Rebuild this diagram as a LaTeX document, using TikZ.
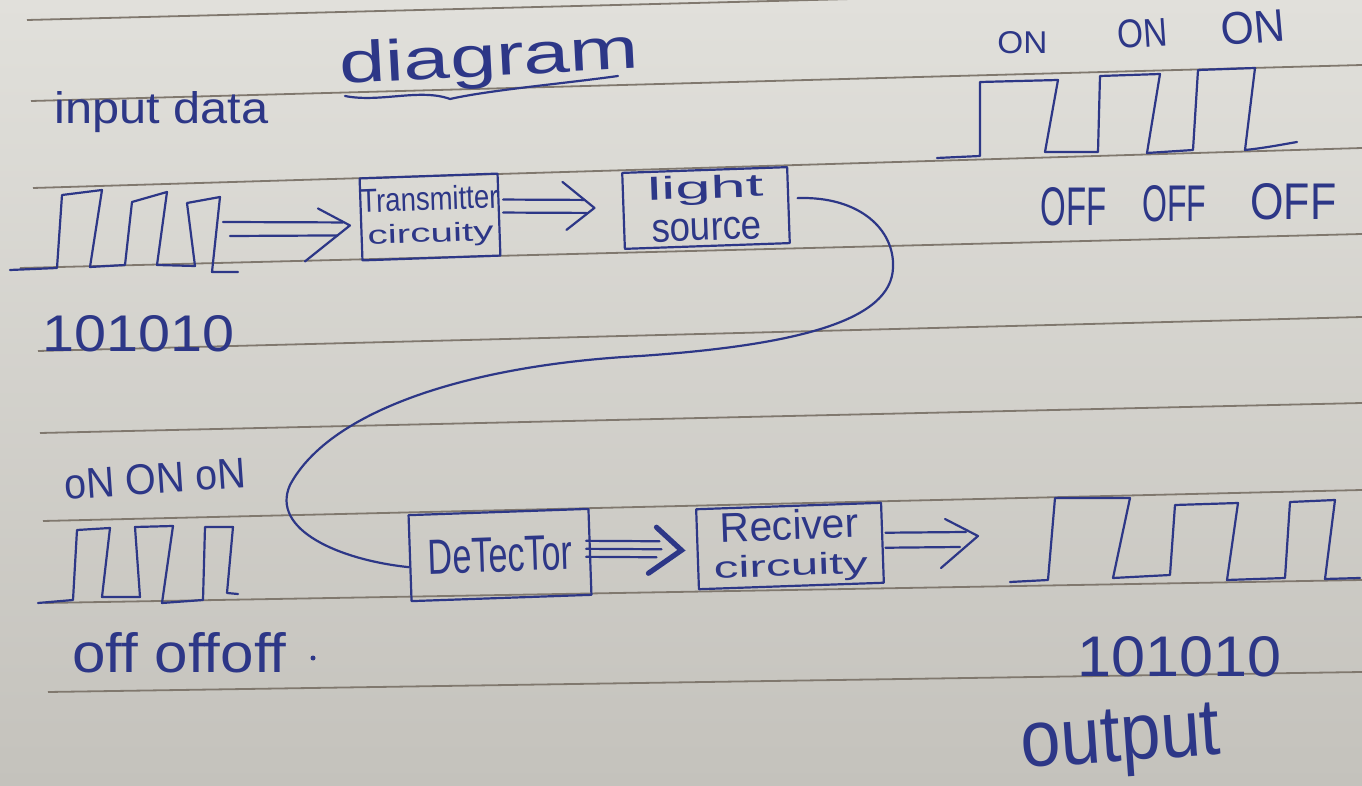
\documentclass[tikz,border=0pt]{standalone}
\usepackage{fontspec}
\setmainfont{Liberation Sans}
\usepackage{graphicx}
\definecolor{ink}{RGB}{45,55,135}
\definecolor{rulecol}{RGB}{128,120,110}
\definecolor{papertop}{RGB}{225,224,219}
\definecolor{paperbot}{RGB}{196,194,188}
\newcommand\hw[3]{\resizebox{#1pt}{#2pt}{#3}}
\begin{document}
\begin{tikzpicture}[x=0.5pt,y=-0.5pt,
  pen/.style={draw=ink,line width=1.1pt,line cap=round,line join=round},
  ruled/.style={draw=rulecol,line width=0.9pt},
  box/.style={pen,rectangle,inner sep=0pt,align=center,rotate=2,text=ink},
  lbl/.style={inner sep=0pt,anchor=base west,text=ink},
  headpen/.style={pen,line width=2.6pt,line join=miter}]
\useasboundingbox (0,0) rectangle (1362,786);
\shade[top color=papertop,bottom color=paperbot] (0,0) rectangle (1362,786);
% ruled lines of the paper
\foreach \xa/\ya/\yb in {27/20/-14,31/101/65,33/188/148,20/268/234,38/351/317,40/433/403,43/521/490,45/603/580,48/692/672}
  \draw[ruled] (\xa,\ya) -- (1362,\yb);

% blocks
\node[box,minimum width=67.5pt,minimum height=41pt,font=\fontsize{10}{16}\selectfont] (tx) at (430,217) {\hw{69}{12}{Transmitter}\\\hw{63}{9.5}{circuity}};
\node[box,minimum width=82.5pt,minimum height=38pt,font=\fontsize{10}{21}\selectfont] (ls) at (706,208) {\hw{58}{11.5}{light}\\\hw{55}{11}{source}};
\node[box,minimum width=90pt,minimum height=43pt] (det) at (500,555) {\hw{72}{17}{DeTecTor}};
\node[box,minimum width=92.5pt,minimum height=40pt,font=\fontsize{10}{18}\selectfont] (rx) at (790,546) {\hw{69}{15}{Reciver}\\\hw{77}{11}{circuity}};

% labels
\node[lbl] (indata) at (54,124) {\hw{107}{16}{input data}};
\node[lbl,rotate=3] (title) at (340,84) {\hw{150}{21}{diagram}};
\draw[pen] (345,96) .. controls (380,103) and (420,88) .. (450,99) .. controls (490,90) and (560,84) .. (618,76);
\node[lbl] (inbits) at (42,352) {\hw{96}{18}{101010}};
\node[lbl] (on1) at (997,54) {\hw{25}{11}{ON}};
\node[lbl,rotate=4] (on2) at (1118,49) {\hw{25}{14}{ON}};
\node[lbl,rotate=5] (on3) at (1222,46) {\hw{32}{16}{ON}};
\node[lbl] (off1) at (1040,226) {\hw{33}{19}{OFF}};
\node[lbl] (off2) at (1142,222) {\hw{32}{18}{OFF}};
\node[lbl] (off3) at (1250,220) {\hw{43}{18}{OFF}};
\node[lbl,rotate=4] (onb) at (65,500) {\hw{91}{15}{oN ON oN}};
\node[lbl] (offb) at (72,672) {\hw{107}{20}{off offoff}};
\node[circle,fill=ink,inner sep=0pt,minimum size=2.5pt] (dot) at (313,658) {};
\node[lbl] (outbits) at (1077,676) {\hw{102}{20}{101010}};
\node[lbl,rotate=4] (outlbl) at (1022,768) {\hw{100}{26}{output}};

% waveforms
\draw[pen] (10,270) -- (57,268) -- (62,195) -- (102,190) -- (90,267) -- (125,265) -- (132,202) -- (167,192) -- (157,265) -- (195,266) -- (187,203) -- (220,197) -- (212,272) -- (238,272);
\draw[pen] (937,158) -- (980,156) -- (980,82) -- (1058,80) -- (1045,152) -- (1098,152) -- (1100,76) -- (1160,74) -- (1147,153) -- (1193,150) -- (1198,70) -- (1255,68) -- (1245,150) .. controls (1265,148) and (1285,144) .. (1297,142);
\draw[pen] (38,603) -- (73,600) -- (77,530) -- (110,528) -- (102,597) -- (140,597) -- (135,527) -- (173,526) -- (162,603) -- (203,600) -- (205,527) -- (233,527) -- (227,593) -- (238,594);
\draw[pen] (1010,582) -- (1048,580) -- (1055,498) -- (1130,498) -- (1113,578) -- (1170,575) -- (1175,505) -- (1238,503) -- (1227,580) -- (1285,578) -- (1290,502) -- (1335,500) -- (1325,579) -- (1360,578);
\coordinate (win) at (226,229);
\coordinate (wout) at (978,536);

% arrow: input wave -> transmitter
\coordinate (t1) at ([shift={(-10,6)}]tx.west);
\draw[pen] ([shift={(-3,-7)}]win) -- ([shift={(-7,-3)}]t1);
\draw[pen] ([shift={(4,7)}]win) -- ([shift={(-12,10)}]t1);
\draw[pen] ([shift={(-32,-17)}]t1) -- (t1) -- ([shift={(-45,36)}]t1);

% arrow: transmitter -> light source
\coordinate (s2) at ([shift={(3,-9)}]tx.east);
\coordinate (t2) at ([shift={(-28,-3)}]ls.west);
\draw[pen] ([shift={(0,-6)}]s2) -- ([shift={(-10,-8)}]t2);
\draw[pen] ([shift={(0,7)}]s2) -- ([shift={(-8,5)}]t2);
\draw[pen] ([shift={(-32,-26)}]t2) -- (t2) -- ([shift={(-28,22)}]t2);

% fibre: light source -> detector
\draw[pen] ([shift={(8,-7)}]ls.east) .. controls (860,196) and (895,230) .. (893,268) .. controls (891,320) and (800,345) .. (640,356) .. controls (470,365) and (330,410) .. (290,485) .. controls (270,530) and (340,560) .. ([shift={(0,9)}]det.west);

% arrow: detector -> receiver
\coordinate (s3) at ([shift={(-5,-3)}]det.east);
\coordinate (t3) at ([shift={(-15,1)}]rx.west);
\draw[pen] ([shift={(0,-8)}]s3) -- ([shift={(-22,-9)}]t3);
\draw[pen] (s3) -- ([shift={(-20,-1)}]t3);
\draw[pen] ([shift={(0,8)}]s3) -- ([shift={(-25,7)}]t3);
\draw[headpen] ([shift={(-25,-23)}]t3) -- (t3) -- ([shift={(-33,23)}]t3);

% arrow: receiver -> output wave
\coordinate (s4) at ([shift={(2,-3)}]rx.east);
\draw[pen] ([shift={(0,-7)}]s4) -- ([shift={(-12,-4)}]wout);
\draw[pen] ([shift={(0,8)}]s4) -- ([shift={(-18,11)}]wout);
\draw[pen] ([shift={(-33,-17)}]wout) -- (wout) -- ([shift={(-37,32)}]wout);
\end{tikzpicture}
\end{document}
